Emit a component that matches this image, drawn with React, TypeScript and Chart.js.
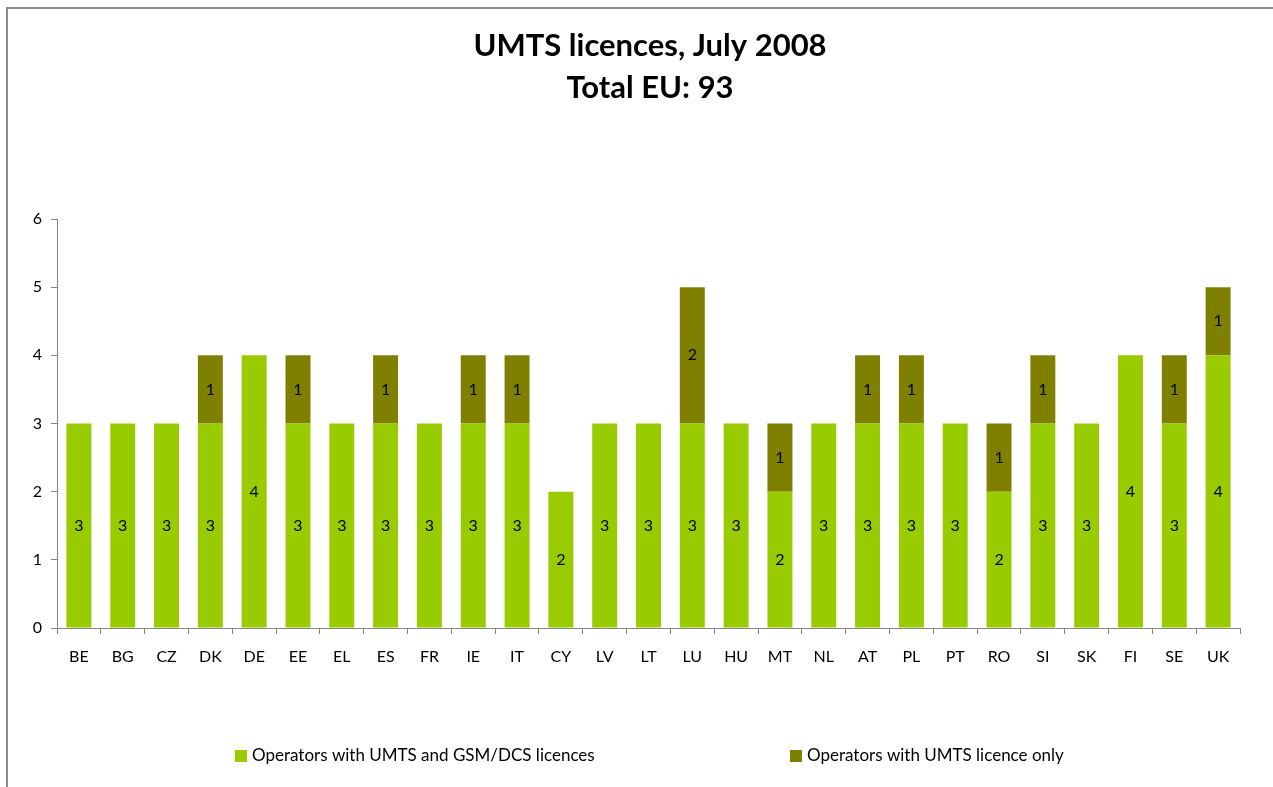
import React, { useEffect, useRef } from "react";
import { Chart, registerables } from "chart.js";

Chart.register(...registerables);

const categories = ["BE","BG","CZ","DK","DE","EE","EL","ES","FR","IE","IT","CY","LV","LT","LU","HU","MT","NL","AT","PL","PT","RO","SI","SK","FI","SE","UK"];
const umtsAndGsm = [3,3,3,3,4,3,3,3,3,3,3,2,3,3,3,3,2,3,3,3,3,2,3,3,4,3,4];
const umtsOnly = [null,null,null,1,null,1,null,1,null,1,1,null,null,null,2,null,1,null,1,1,null,1,1,null,null,1,1];
const seriesNames = ["Operators with UMTS and GSM/DCS licences", "Operators with UMTS licence only"];
const titleLines = ["UMTS licences, July 2008", "Total EU: 93"];
const yTicks = [0, 1, 2, 3, 4, 5, 6];

const GREEN = "#99CC00";
const OLIVE = "#808000";
const AXIS = "#868686";
const FONT = "Lato, 'Open Sans', sans-serif";

const decorPlugin = {
  id: "decor",
  afterDatasetsDraw(chart: any) {
    const ctx = chart.ctx;
    ctx.save();
    ctx.fillStyle = "#000";
    ctx.font = `16px ${FONT}`;
    ctx.textAlign = "center";
    ctx.textBaseline = "middle";
    chart.data.datasets.forEach((ds: any, di: number) => {
      const meta = chart.getDatasetMeta(di);
      meta.data.forEach((bar: any, i: number) => {
        const v = ds.data[i];
        if (v == null || v === 0) return;
        const y = (bar.y + bar.base) / 2;
        ctx.fillText(String(v), bar.x, y);
      });
    });
    ctx.restore();
  },
  afterDraw(chart: any) {
    const ctx = chart.ctx;
    ctx.save();
    ctx.fillStyle = "#000";
    ctx.font = `bold 31px ${FONT}`;
    ctx.textAlign = "center";
    ctx.textBaseline = "middle";
    ctx.fillText(titleLines[0], 650, 46);
    ctx.fillText(titleLines[1], 650, 88);
    ctx.font = `17px ${FONT}`;
    ctx.textAlign = "left";
    const items = [
      { x: 235, color: GREEN, label: seriesNames[0] },
      { x: 790, color: OLIVE, label: seriesNames[1] },
    ];
    items.forEach((it) => {
      ctx.fillStyle = it.color;
      ctx.fillRect(it.x, 750, 12, 12);
      ctx.fillStyle = "#000";
      ctx.fillText(it.label, it.x + 17, 756);
    });
    ctx.restore();
  },
};

export default function App() {
  const ref = useRef<HTMLCanvasElement>(null);
  useEffect(() => {
    if (!ref.current) return;
    const chart = new Chart(ref.current, {
      type: "bar",
      data: {
        labels: categories,
        datasets: [
          { label: seriesNames[0], data: umtsAndGsm, backgroundColor: GREEN, barPercentage: 0.57, categoryPercentage: 1 },
          { label: seriesNames[1], data: umtsOnly as any, backgroundColor: OLIVE, barPercentage: 0.57, categoryPercentage: 1 },
        ],
      },
      options: {
        responsive: false,
        animation: false,
        layout: { padding: { left: 0, right: 33, top: 219, bottom: 109 } },
        plugins: { legend: { display: false }, title: { display: false }, tooltip: { enabled: false } },
        scales: {
          x: {
            stacked: true,
            grid: { drawOnChartArea: false, drawTicks: true, tickLength: 6, color: AXIS, offset: true },
            border: { color: AXIS, width: 1 },
            ticks: { color: "#000", font: { family: FONT, size: 16 }, padding: 13, maxRotation: 0, autoSkip: false },
            afterFit: (s: any) => { s.height = 50; },
          },
          y: {
            stacked: true,
            min: 0,
            max: 6,
            afterBuildTicks: (s: any) => { s.ticks = yTicks.map((v) => ({ value: v })); },
            grid: { drawOnChartArea: false, drawTicks: true, tickLength: 6, color: AXIS },
            border: { color: AXIS, width: 1 },
            ticks: { color: "#000", font: { family: FONT, size: 16 }, padding: 9 },
            afterFit: (s: any) => { s.width = 57; },
          },
        },
      },
      plugins: [decorPlugin],
    });
    return () => chart.destroy();
  }, []);
  return (
    <div style={{ position: "fixed", left: 0, top: 0, width: 1273, height: 787, background: "#fff", overflow: "hidden" }}>
      <div style={{ position: "absolute", left: 6, top: 7, width: 1400, height: 900, borderLeft: "2px solid #8c8c8c", borderTop: "2px solid #8c8c8c" }} />
      <canvas ref={ref} width={1273} height={787} style={{ position: "absolute", left: 0, top: 0 }} />
    </div>
  );
}
